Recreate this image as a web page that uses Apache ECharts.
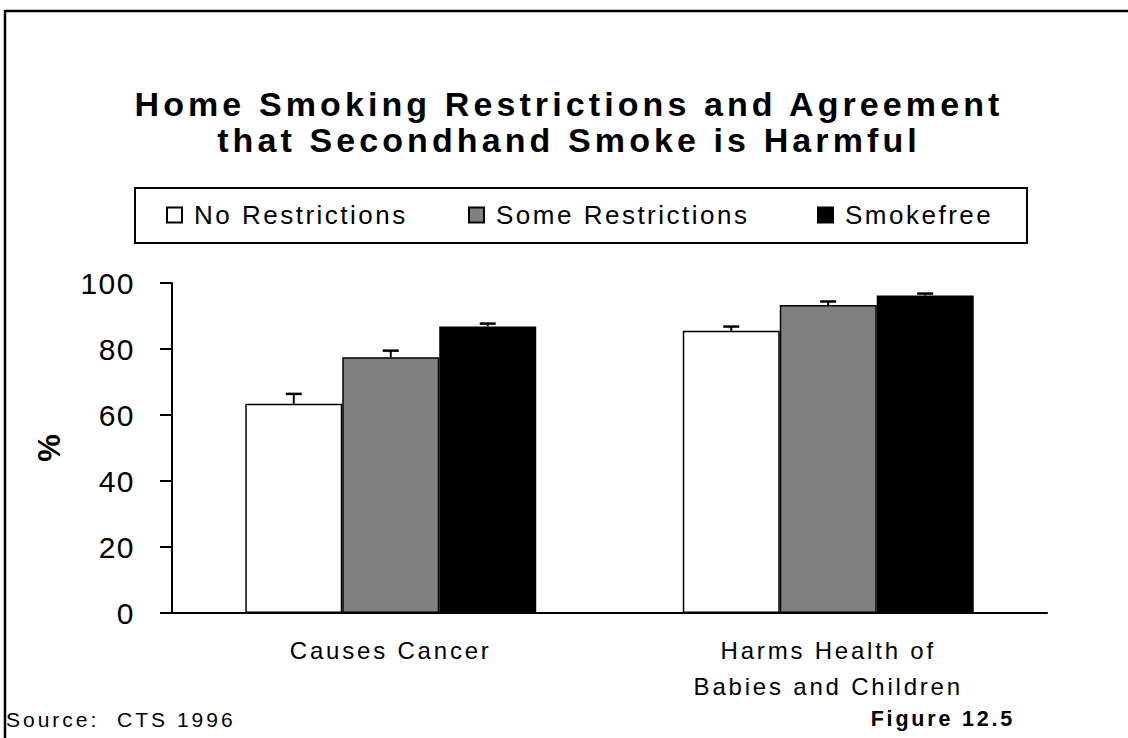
<!DOCTYPE html>
<html>
<head>
<meta charset="utf-8">
<script src="https://cdn.jsdelivr.net/npm/echarts@6/dist/echarts.min.js"></script>
<style>
html,body{margin:0;padding:0;background:#fff;}
#chart{width:1128px;height:738px;}
</style>
</head>
<body>
<div id="chart"></div>
<script>
// ---- data ----
const categories = ['Causes Cancer', 'Harms Health of\nBabies and Children'];
const seriesNames = ['No Restrictions', 'Some Restrictions', 'Smokefree'];
const noRestrictions = [63.4, 85.5];
const someRestrictions = [77.5, 93.3];
const smokefree = [86.8, 96.2];
const noRestrictionsUpper = [66.4, 86.8];
const someRestrictionsUpper = [79.5, 94.4];
const smokefreeUpper = [87.7, 96.8];
const titleLines = ['Home Smoking Restrictions and Agreement', 'that Secondhand Smoke is Harmful'];
const sourceText = 'Source:  CTS 1996';
const figureText = 'Figure 12.5';

const colors = ['#ffffff', '#808080', '#000000'];
const values = [noRestrictions, someRestrictions, smokefree];
const uppers = [noRestrictionsUpper, someRestrictionsUpper, smokefreeUpper];
const GAP = 0.335;
const FONT = "'Liberation Sans', Arial, sans-serif";

const chart = echarts.init(document.getElementById('chart'), null, {renderer: 'svg'});

const barSeries = seriesNames.map((name, i) => ({
  name: name,
  type: 'bar',
  data: values[i],
  barGap: '0%',
  barCategoryGap: (GAP * 100) + '%',
  itemStyle: {color: colors[i], borderColor: '#000', borderWidth: 1.5},
  emphasis: {disabled: true},
  z: 2
}));

const errSeries = seriesNames.map((name, i) => ({
  name: name + ' error',
  type: 'custom',
  z: 5,
  data: values[i].map((v, k) => [k, v, uppers[i][k]]),
  renderItem: function (params, api) {
    const base = api.coord([api.value(0), api.value(1)]);
    const top = api.coord([api.value(0), api.value(2)]);
    const band = api.size([1, 0])[0];
    const bw = band * (1 - GAP) / 3;
    const cx = base[0] + (i - 1) * bw;
    return {
      type: 'group',
      children: [
        {type: 'line', shape: {x1: cx, y1: base[1], x2: cx, y2: top[1]}, style: {stroke: '#000', lineWidth: 2}},
        {type: 'line', shape: {x1: cx - 8, y1: top[1], x2: cx + 8, y2: top[1]}, style: {stroke: '#000', lineWidth: 2.5}}
      ]
    };
  }
}));

const legendLefts = [166, 468, 817];
const legends = seriesNames.map((name, i) => ({
  data: [name],
  left: legendLefts[i],
  top: 202,
  icon: 'rect',
  itemWidth: 15,
  itemHeight: 15,
  selectedMode: false,
  padding: 0,
  textStyle: {fontFamily: FONT, fontSize: 26, color: '#000', padding: [0, 0, 0, 7]}
}));

const titleY = [104, 140];
const titleGraphics = titleLines.map((t, i) => ({
  type: 'text', x: 569, y: titleY[i],
  style: {text: t, fontFamily: FONT, fontSize: 34, fontWeight: 'bold', fill: '#000', textAlign: 'center', textVerticalAlign: 'middle', lineHeight: 34}
}));

const option = {
  animation: false,
  backgroundColor: '#fff',
  legend: legends,
  grid: {left: 172, right: 81, top: 283, bottom: 125, containLabel: false},
  xAxis: {
    type: 'category',
    data: categories,
    axisLine: {lineStyle: {color: '#000', width: 2}},
    axisTick: {show: false},
    axisLabel: {fontFamily: FONT, fontSize: 24, color: '#000', margin: 19, lineHeight: 36}
  },
  yAxis: {
    type: 'value',
    min: 0, max: 100, interval: 20,
    name: '%',
    nameLocation: 'middle',
    nameGap: 107,
    nameRotate: 90,
    nameTextStyle: {fontFamily: FONT, fontSize: 31, fontWeight: 'bold', color: '#000'},
    axisLine: {show: true, lineStyle: {color: '#000', width: 2}},
    axisTick: {show: true, inside: false, length: 12, lineStyle: {color: '#000', width: 2}},
    splitLine: {show: false},
    axisLabel: {fontFamily: FONT, fontSize: 30, color: '#000', margin: 37}
  },
  graphic: [
    {type: 'line', shape: {x1: 5, y1: 11, x2: 1128, y2: 11}, style: {stroke: '#000', lineWidth: 2.5}},
    {type: 'line', shape: {x1: 5, y1: 10, x2: 5, y2: 738}, style: {stroke: '#000', lineWidth: 2.5}},
    {type: 'rect', shape: {x: 135, y: 188, width: 892, height: 55}, style: {fill: 'none', stroke: '#000', lineWidth: 2}},
    {type: 'text', x: 6, y: 719, style: {text: sourceText, fontFamily: FONT, fontSize: 21, fill: '#000', textAlign: 'left', textVerticalAlign: 'middle'}},
    {type: 'text', x: 1015, y: 719, style: {text: figureText, fontFamily: FONT, fontSize: 21.5, fontWeight: 'bold', fill: '#000', textAlign: 'right', textVerticalAlign: 'middle'}}
  ].concat(titleGraphics),
  series: barSeries.concat(errSeries)
};

chart.setOption(option);

function applySpacing() {
  const map = {'34px': '4.1px', '30px': '1.5px', '26px': '2.5px', '24px': '2.8px', '21px': '3px', '21.5px': '2.8px'};
  document.querySelectorAll('#chart svg text').forEach(el => {
    const fs = getComputedStyle(el).fontSize;
    if (map[fs]) el.style.letterSpacing = map[fs];
  });
}
applySpacing();
chart.on('finished', applySpacing);
</script>
</body>
</html>
